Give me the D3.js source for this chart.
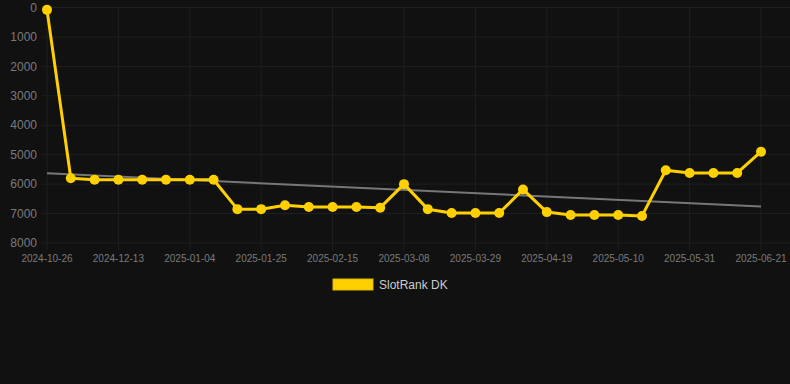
<!DOCTYPE html>
<html><head><meta charset="utf-8">
<script src="https://cdn.jsdelivr.net/npm/d3@7"></script>
<style>html,body{margin:0;padding:0;background:#111111;}svg{display:block;}</style>
</head><body>
<svg id="c" width="790" height="384"></svg>
<script>
const categories = ["2024-10-26","2024-11-29","2024-12-06","2024-12-13","2024-12-20","2024-12-27","2025-01-04","2025-01-11","2025-01-18","2025-01-25","2025-02-01","2025-02-08","2025-02-15","2025-02-22","2025-03-01","2025-03-08","2025-03-15","2025-03-22","2025-03-29","2025-04-05","2025-04-12","2025-04-19","2025-04-26","2025-05-03","2025-05-10","2025-05-17","2025-05-24","2025-05-31","2025-06-07","2025-06-14","2025-06-21"];
const rankValues = [80,5800,5850,5850,5850,5850,5850,5850,6850,6850,6720,6780,6780,6780,6800,6000,6850,6980,6980,6980,6180,6950,7050,7050,7050,7080,5530,5620,5620,5620,4900];
const trendValues = [5630,6760];
const yTicks = [0,1000,2000,3000,4000,5000,6000,7000,8000];
const seriesName = "SlotRank DK";

const svg = d3.select("#c");
const x = d3.scalePoint().domain(categories).range([47,761]);
const y = d3.scaleLinear().domain([0,8000]).range([7.5,243]);
const gridColor = "#1f1f1f";
const labelFont = "Liberation Sans, Arial, Helvetica, sans-serif";

svg.append("g").selectAll("line").data(yTicks).join("line")
  .attr("x1",42).attr("x2",790).attr("y1",d=>y(d)).attr("y2",d=>y(d))
  .attr("stroke",gridColor).attr("stroke-width",1);
const shown = categories.filter((d,i)=>i%3===0);
svg.append("g").selectAll("line").data(shown).join("line")
  .attr("x1",d=>x(d)).attr("x2",d=>x(d)).attr("y1",7.5).attr("y2",250)
  .attr("stroke",gridColor).attr("stroke-width",1);

svg.append("g").selectAll("text").data(yTicks).join("text")
  .attr("x",37).attr("y",d=>y(d)).attr("dy","0.35em").attr("text-anchor","end")
  .attr("font-family",labelFont).attr("font-size",12).attr("fill","#7a7a7a")
  .text(d=>d);
svg.append("g").selectAll("text").data(shown).join("text")
  .attr("x",d=>x(d)).attr("y",262).attr("text-anchor","middle")
  .attr("font-family",labelFont).attr("font-size",10).attr("fill","#7a7a7a")
  .text(d=>d);

svg.append("line")
  .attr("x1",x(categories[0])).attr("x2",x(categories[categories.length-1]))
  .attr("y1",y(trendValues[0])).attr("y2",y(trendValues[1]))
  .attr("stroke","#777777").attr("stroke-width",2);

const data = categories.map((c,i)=>({c,v:rankValues[i]}));
svg.append("path").datum(data)
  .attr("d",d3.line().x(d=>x(d.c)).y(d=>y(d.v)))
  .attr("fill","none").attr("stroke","#FFD000").attr("stroke-width",3).attr("stroke-linejoin","round");
svg.append("g").selectAll("circle").data(data).join("circle")
  .attr("cx",d=>x(d.c)).attr("cy",d=>y(d.v)).attr("r",5)
  .attr("fill","#FFD000");

svg.append("rect").attr("x",333).attr("y",279).attr("width",40).attr("height",11)
  .attr("fill","#FFD000").attr("stroke","#E0B800").attr("stroke-width",1);
svg.append("text").attr("x",379).attr("y",285).attr("dy","0.35em")
  .attr("font-family",labelFont).attr("font-size",12).attr("fill","#cccccc")
  .text(seriesName);
</script>
</body></html>
